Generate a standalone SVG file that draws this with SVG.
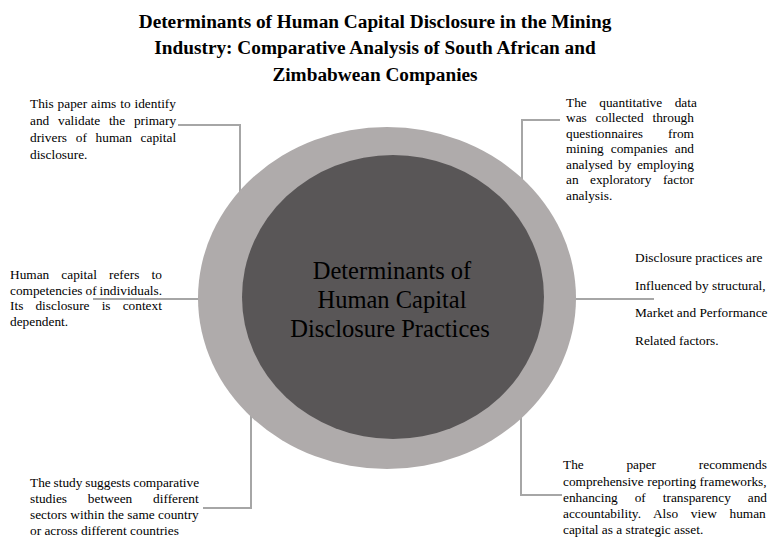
<svg xmlns="http://www.w3.org/2000/svg" width="776" height="555" viewBox="0 0 776 555">
<style>
.t{font-family:"Liberation Serif","Times New Roman",serif;font-size:13.33px;fill:#000}
.title{font-family:"Liberation Serif","Times New Roman",serif;font-size:19.3px;font-weight:bold;fill:#000;text-anchor:middle}
.center{font-family:"Liberation Serif","Times New Roman",serif;font-size:24.5px;fill:#000;text-anchor:middle}
.c{fill:none;stroke:#A6A6A6;stroke-width:2}
</style>
<rect width="776" height="555" fill="#fff"/>
<g id="title">
<text class="title" x="375" y="28">Determinants of Human Capital Disclosure in the Mining</text>
<text class="title" x="375" y="54">Industry: Comparative Analysis of South African and</text>
<text class="title" x="375" y="81">Zimbabwean Companies</text>
</g>
<g id="connectors">
<polyline class="c" points="178,125 240,125 240,200"/>
<polyline class="c" points="560,120 522,120 522,200"/>
<line class="c" x1="93" y1="299" x2="210" y2="299" stroke-width="1.2"/>
<line class="c" x1="565" y1="299" x2="654" y2="299"/>
<polyline class="c" points="251,410 251,508 203,508"/>
<polyline class="c" points="521,410 521,495 562,495"/>
</g>
<g id="center">
<ellipse cx="387" cy="298" rx="189" ry="171" fill="#AFABAB"/>
<ellipse cx="393" cy="297" rx="151" ry="142" fill="#595657"/>
<text class="center" x="392" y="279">Determinants of</text>
<text class="center" x="392" y="308">Human Capital</text>
<text class="center" x="390" y="337">Disclosure Practices</text>
</g>
<g id="note-top-left">
<text class="t" x="30" y="108" word-spacing="0.58">This paper aims to identify</text>
<text class="t" x="30" y="125" word-spacing="5.4">and validate the primary</text>
<text class="t" x="30" y="142" word-spacing="5.4">drivers of human capital</text>
<text class="t" x="30" y="159">disclosure.</text>
</g>
<g id="note-top-right">
<text class="t" x="566" y="106.5" word-spacing="9.2">The quantitative data</text>
<text class="t" x="566" y="122" word-spacing="5.5">was collected through</text>
<text class="t" x="566" y="137.5" word-spacing="21.7">questionnaires from</text>
<text class="t" x="566" y="153" word-spacing="3.65">mining companies and</text>
<text class="t" x="566" y="168.5" word-spacing="2.15">analysed by employing</text>
<text class="t" x="566" y="184" word-spacing="8.1">an exploratory factor</text>
<text class="t" x="566" y="199.5">analysis.</text>
</g>
<g id="note-left">
<text class="t" x="10" y="279" word-spacing="8.8">Human capital refers to</text>
<text class="t" x="10" y="294.5" word-spacing="-0.4">competencies of individuals.</text>
<text class="t" x="10" y="310" word-spacing="8.8">Its disclosure is context</text>
<text class="t" x="10" y="325.5">dependent.</text>
</g>
<g id="note-right">
<text class="t" x="635" y="262">Disclosure practices are</text>
<text class="t" x="635" y="289.5">Influenced by structural,</text>
<text class="t" x="635" y="317">Market and Performance</text>
<text class="t" x="635" y="344.5">Related factors.</text>
</g>
<g id="note-bottom-left">
<text class="t" x="30" y="487" word-spacing="-0.5">The study suggests comparative</text>
<text class="t" x="30" y="503" word-spacing="17.5">studies between different</text>
<text class="t" x="30" y="519">sectors within the same country</text>
<text class="t" x="30" y="535">or across different countries</text>
</g>
<g id="note-bottom-right">
<text class="t" x="563" y="469" word-spacing="39.4">The paper recommends</text>
<text class="t" x="563" y="485.5" word-spacing="0.2">comprehensive reporting frameworks,</text>
<text class="t" x="563" y="502" word-spacing="13.6">enhancing of transparency and</text>
<text class="t" x="563" y="518" word-spacing="9.4">accountability. Also view human</text>
<text class="t" x="563" y="534">capital as a strategic asset.</text>
</g>
</svg>
